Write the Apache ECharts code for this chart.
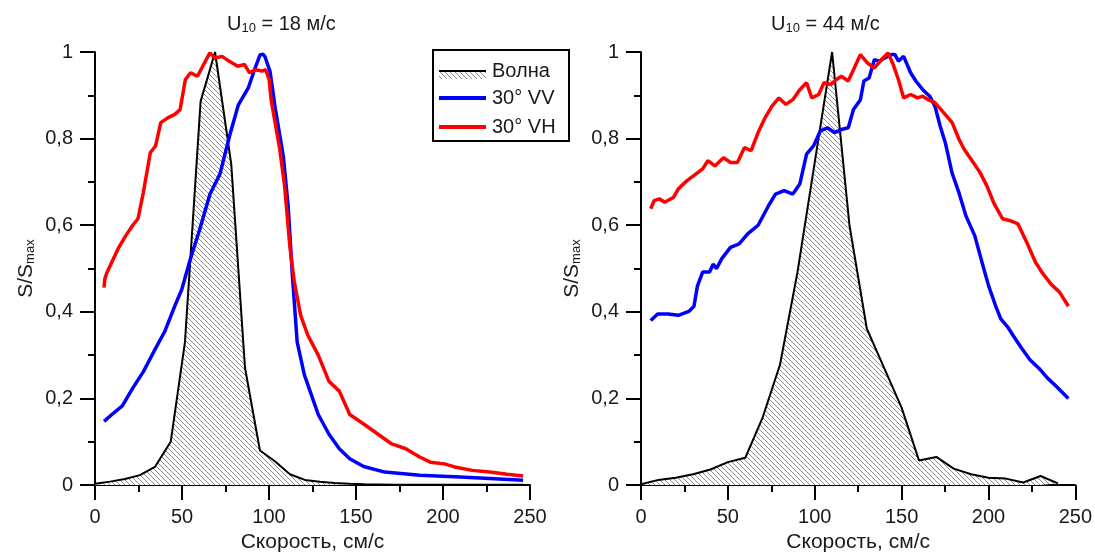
<!doctype html>
<html>
<head>
<meta charset="UTF-8">
<title></title>
<script src="https://cdn.jsdelivr.net/npm/echarts@6/dist/echarts.min.js"></script>
<style>
	html, body { margin: 0; padding: 0; background: #fff; }
	#chart { width: 1095px; height: 558px; }
</style>
</head>
<body>
<div id="chart"></div>
<script>
// данные: [скорость, S/Smax]
var seriesNames = ['Волна', '30° VV', '30° VH'];
var panelTitles = ['18 м/с', '44 м/с'];
var yTicks = [0, 0.2, 0.4, 0.6, 0.8, 1];

var waveLeft = [[0,0.003],[8.6,0.008],[17.2,0.014],[25.8,0.023],[34.4,0.042],[43.5,0.10],[51.7,0.33],[60.7,0.886],[69,1.0],[78.3,0.741],[86.2,0.271],[94.8,0.08],[103.4,0.055],[112,0.025],[120.6,0.012],[129.2,0.008],[137.8,0.005],[146.4,0.003],[155,0.002],[172,0.001],[200,0.001],[246,0.001]];
var vvLeft = [[5.2,0.147],[9.7,0.163],[15.7,0.183],[21.7,0.224],[27.8,0.262],[33.8,0.308],[40,0.354],[45.9,0.414],[49.9,0.452],[54.6,0.519],[60.3,0.592],[66.1,0.672],[71.8,0.718],[77.6,0.81],[82.4,0.878],[88.1,0.917],[92,0.963],[94.8,0.993],[96.5,0.995],[97.7,0.989],[100.6,0.955],[103.6,0.87],[108.2,0.76],[111,0.645],[113.5,0.48],[116.2,0.33],[120.3,0.255],[124.3,0.209],[128.3,0.163],[134.4,0.118],[140.4,0.084],[146.4,0.061],[154.4,0.043],[166.5,0.030],[186.6,0.023],[206.7,0.019],[226.8,0.015],[246,0.011]];
var vhLeft = [[5.2,0.456],[5.6,0.475],[6.6,0.488],[9.7,0.515],[13.7,0.549],[17.7,0.576],[21.7,0.6],[24.7,0.615],[27.8,0.676],[31.8,0.768],[34.8,0.783],[37.8,0.837],[41.8,0.848],[45.9,0.856],[48.9,0.867],[51.9,0.936],[54.9,0.952],[58.9,0.944],[61.9,0.967],[66,0.998],[69,0.986],[73,0.99],[77,0.979],[82,0.967],[86,0.971],[88.8,0.952],[92.1,0.959],[96.1,0.956],[98.1,0.959],[100.1,0.936],[101.2,0.89],[106.2,0.775],[109,0.69],[112,0.55],[114.5,0.47],[118.2,0.392],[122.3,0.346],[128.3,0.30],[134.4,0.24],[140.4,0.217],[146.4,0.163],[154.4,0.141],[162.5,0.118],[170.5,0.095],[178.6,0.084],[186.6,0.065],[192.7,0.053],[200.7,0.049],[206.7,0.042],[216.8,0.034],[226.8,0.030],[236.9,0.025],[246,0.021]];

var waveRight = [[0,0.002],[10,0.012],[20,0.017],[30,0.025],[40,0.036],[50,0.053],[60,0.063],[70,0.156],[80,0.278],[90,0.49],[100,0.745],[110,1.0],[120,0.6],[130,0.361],[140,0.27],[150,0.179],[160,0.057],[170,0.065],[180,0.038],[190,0.025],[200,0.017],[210,0.015],[220,0.006],[230,0.021],[240,0.004]];
var vvRight = [[5.6,0.380],[9.6,0.395],[15.6,0.395],[21.5,0.392],[27.5,0.401],[30.5,0.413],[32.5,0.46],[35.5,0.492],[39.5,0.492],[41.5,0.51],[43.5,0.5],[46.5,0.523],[51.5,0.549],[56.5,0.557],[61.4,0.58],[67.4,0.6],[73.4,0.645],[77.4,0.672],[82.4,0.68],[87.4,0.672],[91.4,0.695],[95.3,0.764],[99.3,0.783],[103.3,0.818],[107.3,0.825],[111.3,0.814],[115.3,0.821],[119.3,0.825],[122.3,0.867],[126.3,0.89],[128.3,0.933],[131.3,0.94],[134.3,0.982],[137.3,0.979],[140.2,0.986],[144.2,0.994],[146.2,0.994],[148.2,0.979],[151.2,0.99],[155.2,0.952],[158.2,0.933],[162.2,0.913],[166.2,0.898],[169.2,0.875],[172.2,0.829],[175.2,0.79],[179.1,0.72],[183.1,0.674],[187.1,0.621],[192.1,0.576],[196.6,0.51],[200.1,0.46],[204.1,0.414],[207.1,0.384],[211.1,0.365],[214.1,0.346],[219.1,0.316],[224,0.289],[229,0.27],[234,0.247],[239,0.228],[246,0.20]];
var vhRight = [[5.6,0.638],[7.6,0.657],[10.6,0.661],[13.6,0.653],[18.6,0.664],[21.5,0.684],[26.5,0.703],[31.5,0.718],[35.5,0.73],[38.5,0.749],[42.5,0.737],[47.5,0.756],[51.5,0.745],[55.5,0.745],[59.5,0.779],[63.4,0.772],[67.4,0.814],[71.4,0.848],[75.4,0.875],[79.4,0.894],[83.4,0.879],[87.4,0.89],[91.4,0.913],[95.3,0.929],[98.3,0.894],[102.3,0.902],[105.3,0.929],[109.3,0.925],[112.3,0.936],[115.3,0.944],[119.3,0.933],[122.3,0.959],[126.3,0.994],[130.3,0.975],[134.3,0.963],[138.3,0.982],[142.2,0.998],[145.2,0.971],[148.2,0.936],[151.2,0.894],[155.2,0.902],[159.2,0.894],[162.2,0.898],[165.2,0.89],[169.2,0.883],[174.2,0.86],[179.1,0.837],[183.1,0.798],[186.1,0.775],[190.1,0.752],[195.1,0.722],[199.1,0.691],[203.1,0.651],[208.1,0.615],[212.1,0.611],[217,0.603],[222,0.561],[227,0.515],[231,0.49],[236,0.464],[241,0.445],[246,0.413]];

var FONT = "'Liberation Sans', Arial, sans-serif";
var TXT = '#1a1a1a';

// штриховка для волны
var hatch = document.createElement('canvas');
hatch.width = 5; hatch.height = 5;
var hc = hatch.getContext('2d');
hc.fillStyle = '#fff';
hc.fillRect(0, 0, 5, 5);
hc.strokeStyle = '#8a8a8a';
hc.lineWidth = 1;
hc.beginPath();
hc.moveTo(0, 0); hc.lineTo(5, 5);
hc.moveTo(-1, 4); hc.lineTo(1, 6);
hc.moveTo(4, -1); hc.lineTo(6, 1);
hc.stroke();
var hatchFill = { image: hatch, repeat: 'repeat' };

var myChart = echarts.init(document.getElementById('chart'));

function xAxisCfg(idx) {
	return {
		gridIndex: idx, type: 'value', min: 0, max: 250, interval: 50,
		name: 'Скорость, см/с', nameLocation: 'middle', nameGap: 46,
		nameTextStyle: { fontFamily: FONT, fontSize: 21, color: TXT },
		axisLine: { onZero: false, lineStyle: { color: '#000', width: 2 } },
		axisTick: { inside: false, length: 15, lineStyle: { color: '#000', width: 2 } },
		minorTick: { show: true, splitNumber: 2, length: 7, lineStyle: { color: '#000', width: 2 } },
		axisLabel: { margin: 22, fontFamily: FONT, fontSize: 20, color: TXT },
		splitLine: { show: false }
	};
}
function yAxisCfg(idx) {
	return {
		gridIndex: idx, type: 'value', min: 0, max: 1, interval: 0.2,
		name: '{a|S/S}{b|max}', nameLocation: 'middle', nameGap: 56,
		nameTextStyle: {
			fontFamily: FONT, color: TXT,
			rich: {
				a: { fontFamily: FONT, fontSize: 21, color: TXT, lineHeight: 26 },
				b: { fontFamily: FONT, fontSize: 13, color: TXT, lineHeight: 26, padding: [9, 0, 0, 0] }
			}
		},
		axisLine: { onZero: false, lineStyle: { color: '#000', width: 2 } },
		axisTick: { inside: false, length: 15, lineStyle: { color: '#000', width: 2 } },
		minorTick: { show: true, splitNumber: 2, length: 7, lineStyle: { color: '#000', width: 2 } },
		axisLabel: {
			margin: 22, fontFamily: FONT, fontSize: 20, color: TXT,
			formatter: function(v) {
				if(v === 0 || v === 1) return String(v);
				return v.toFixed(1).replace('.', ',');
			}
		},
		splitLine: { show: false }
	};
}

function waveSeries(idx, data) {
	return {
		name: seriesNames[0], type: 'line', xAxisIndex: idx, yAxisIndex: idx,
		data: data, showSymbol: false, symbol: 'none', z: 2,
		lineStyle: { color: '#000', width: 2 },
		areaStyle: { color: hatchFill, opacity: 1 }
	};
}
function lineSeries(idx, name, color, data) {
	return {
		name: name, type: 'line', xAxisIndex: idx, yAxisIndex: idx,
		data: data, showSymbol: false, symbol: 'none', z: 3,
		lineStyle: { color: color, width: 3.5 }
	};
}

function titleCfg(left, txt) {
	return {
		text: '{a|U}{b|10}{a| = ' + txt + '}',
		left: left, top: 6,
		textStyle: {
			fontWeight: 'normal',
			rich: {
				a: { fontFamily: FONT, fontSize: 20, fontWeight: 'normal', color: TXT, lineHeight: 26 },
				b: { fontFamily: FONT, fontSize: 13, fontWeight: 'normal', color: TXT, lineHeight: 26, padding: [9, 0, 0, 0] }
			}
		}
	};
}

var option = {
	animation: false,
	backgroundColor: '#fff',
	title: [titleCfg(222, panelTitles[0]), titleCfg(766, panelTitles[1])],
	grid: [
		{ left: 95, top: 52, width: 435, height: 436 },
		{ left: 641, top: 52, width: 436, height: 436 }
	],
	xAxis: [xAxisCfg(0), xAxisCfg(1)],
	yAxis: [yAxisCfg(0), yAxisCfg(1)],
	series: [
		waveSeries(0, waveLeft),
		lineSeries(0, seriesNames[1], '#0000ff', vvLeft),
		lineSeries(0, seriesNames[2], '#ff0000', vhLeft),
		waveSeries(1, waveRight),
		lineSeries(1, seriesNames[1], '#0000ff', vvRight),
		lineSeries(1, seriesNames[2], '#ff0000', vhRight)
	],
	// легенда
	graphic: [{
		type: 'group', left: 432, top: 49,
		children: [
			{ type: 'rect', shape: { x: 0, y: 0, width: 136, height: 91 }, style: { fill: '#fff', stroke: '#000', lineWidth: 2 } },
			{ type: 'rect', shape: { x: 6, y: 21, width: 47, height: 8 }, style: { fill: hatchFill } },
			{ type: 'line', shape: { x1: 6, y1: 21, x2: 53, y2: 21 }, style: { stroke: '#000', lineWidth: 2 } },
			{ type: 'text', x: 59, y: 21, style: { text: seriesNames[0], font: '20px ' + FONT, fill: TXT, verticalAlign: 'middle' } },
			{ type: 'line', shape: { x1: 6, y1: 48, x2: 53, y2: 48 }, style: { stroke: '#0000ff', lineWidth: 4 } },
			{ type: 'text', x: 59, y: 48, style: { text: seriesNames[1], font: '20px ' + FONT, fill: TXT, verticalAlign: 'middle' } },
			{ type: 'line', shape: { x1: 6, y1: 77, x2: 53, y2: 77 }, style: { stroke: '#ff0000', lineWidth: 4 } },
			{ type: 'text', x: 59, y: 77, style: { text: seriesNames[2], font: '20px ' + FONT, fill: TXT, verticalAlign: 'middle' } }
		]
	}]
};

myChart.setOption(option);
</script>
</body>
</html>
